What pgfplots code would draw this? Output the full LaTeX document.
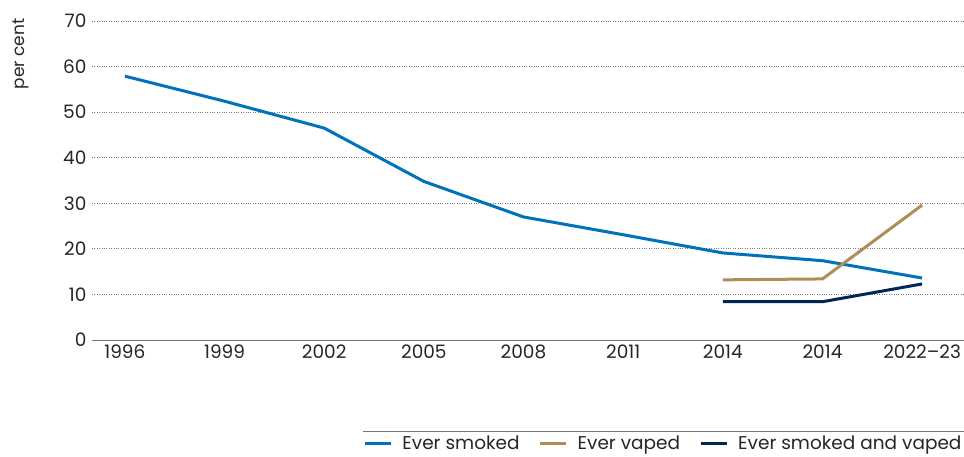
\documentclass[border=0pt]{standalone}
\usepackage{pgfplots}
\pgfplotsset{compat=1.18}
\usepackage{fontspec}
\setmainfont{Poppins}
\definecolor{cblue}{RGB}{0,114,188}
\definecolor{ctan}{RGB}{176,141,87}
\definecolor{cnavy}{RGB}{0,40,85}
\definecolor{cgrid}{RGB}{120,120,120}
\begin{document}
\begin{tikzpicture}
\path[use as bounding box] (0,0) rectangle (964pt,457pt);
\begin{axis}[
  at={(92pt,117pt)}, anchor=south west,
  scale only axis, width=872pt, height=319pt,
  xmin=-0.33, xmax=8.42, ymin=0, ymax=70,
  xtick={0,...,8},
  xticklabels={1996,1999,2002,2005,2008,2011,2014,2014,2022--23},
  ytick={0,10,...,70},
  axis x line*=bottom, axis y line*=left,
  x axis line style={draw=cgrid, line width=0.8pt, -},
  y axis line style={draw=none},
  major tick length=0pt,
  ymajorgrids, grid style={draw=cgrid, dotted, line width=0.8pt},
  every tick label/.append style={font=\fontsize{18.5}{22}\selectfont, text=black!85},
  /pgf/number format/assume math mode=true,
  yticklabel style={xshift=-2pt},
  xticklabel style={yshift=-1pt},
  ylabel={\fontsize{17}{20}\selectfont per cent},
  ylabel style={at={(axis description cs:-0.0815,0.897)}, anchor=center, rotate=0, text=black!85},
  clip=false,
  legend columns=3,
  legend style={at={(axis description cs:0.311,-0.325)}, anchor=west, draw=none, fill=none, inner sep=0pt,
    nodes={inner sep=0pt},
    font=\fontsize{18.5}{22}\selectfont, text=black!85,
    /tikz/every odd column/.append style={column sep=10pt},
    /tikz/every even column/.append style={column sep=19pt}},
  legend cell align=left,
  legend image code/.code={\draw[#1, line width=3pt] (0pt,0pt) -- (26pt,0pt);},
]
\addplot[cblue, line width=3pt] coordinates {(0,57.9) (1,52.4) (2,46.5) (3,34.8) (4,27.0) (5,23.1) (6,19.1) (7,17.4) (8,13.6)};
\addlegendentry{Ever smoked}
\addplot[ctan, line width=3pt] coordinates {(6,13.2) (7,13.4) (8,29.6)};
\addlegendentry{Ever vaped}
\addplot[cnavy, line width=3pt] coordinates {(6,8.4) (7,8.4) (8,12.3)};
\addlegendentry{Ever smoked and vaped}
\draw[cgrid, line width=0.8pt] (axis description cs:0.311,-0.285) -- (axis description cs:1,-0.285);
\end{axis}
\end{tikzpicture}
\end{document}
